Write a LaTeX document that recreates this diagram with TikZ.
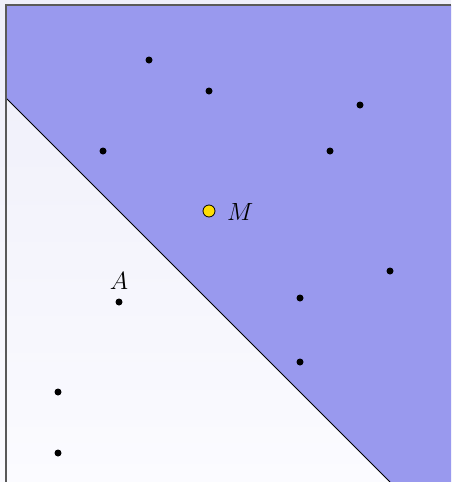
\documentclass[tikz,border=0pt]{standalone}
\begin{document}
\begin{tikzpicture}[x=1pt,y=-1pt,
  dot/.style={circle,fill=black,inner sep=0pt,minimum size=7pt},
  mdot/.style={circle,fill=yellow!80!orange,draw=black,line width=0.8pt,inner sep=0pt,minimum size=12pt},
  lbl/.style={font=\huge}]
\definecolor{bluefill}{HTML}{9999EE}
\definecolor{bgtop}{HTML}{EEEEF9}
\definecolor{bgbot}{HTML}{FBFBFF}
\useasboundingbox (0,0) rectangle (451,482);
\shade[top color=bgtop,bottom color=bgbot] (0,0) rectangle (451,482);
\fill[bluefill] (6,5) -- (451,5) -- (451,482) -- (390,482) -- (6,98) -- cycle;
\draw[black,line width=0.9pt] (6,98) -- (390,482);
\draw[black!65,line width=1.5pt] (6,482) -- (6,5) -- (451,5);
\node[dot] (p1) at (149,60) {};
\node[dot] (p2) at (209,91) {};
\node[dot] (p3) at (360,105) {};
\node[dot] (p4) at (103,151) {};
\node[dot] (p5) at (330,151) {};
\node[dot] (p6) at (390,271) {};
\node[dot] (p7) at (300,298) {};
\node[dot] (p8) at (300,362) {};
\node[dot] (A) at (119,302) {};
\node[dot] (p9) at (58,392) {};
\node[dot] (p10) at (58,453) {};
\node[mdot] (M) at (209,211) {};
\node[lbl,anchor=west,inner sep=2pt] at (225,212) {\scalebox{1.2}{$M$}};
\node[lbl,anchor=south,inner sep=2pt] at (119,292) {\scalebox{1.2}{$A$}};
\end{tikzpicture}
\end{document}
